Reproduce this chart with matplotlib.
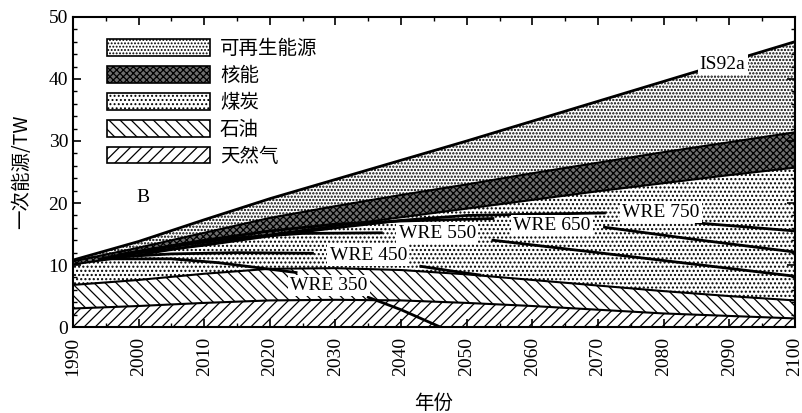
import numpy as np
import matplotlib
matplotlib.use("Agg")
import matplotlib.pyplot as plt
from matplotlib.patches import Patch
from matplotlib.ticker import MultipleLocator

plt.rcParams['font.family'] = ['Liberation Serif', 'Noto Sans CJK SC']
plt.rcParams['hatch.linewidth'] = 0.9

# layer tops (TW)
years = [1990, 2000, 2010, 2020, 2030, 2040, 2050, 2060, 2070, 2080, 2090, 2100]
gas_top = [3.0, 3.4, 3.9, 4.3, 4.4, 4.3, 3.9, 3.4, 2.8, 2.2, 1.8, 1.4]
oil_top = [6.8, 7.6, 8.6, 9.4, 9.5, 9.2, 8.5, 7.6, 6.7, 5.8, 5.0, 4.3]
coal_top = [10.1, 11.6, 13.3, 14.9, 16.3, 17.7, 19.1, 20.5, 21.9, 23.2, 24.5, 25.7]
nuclear_top = [10.6, 12.8, 15.2, 17.6, 19.5, 21.3, 23.0, 24.8, 26.5, 28.2, 29.8, 31.4]
total = [10.8, 13.8, 17.3, 20.7, 23.8, 26.9, 30.0, 33.2, 36.4, 39.6, 42.8, 46.0]

names = ['可再生能源', '核能', '煤炭', '石油', '天然气']

# WRE scenario curves (nan = gap under label)
wre350_x = [1994, 2005, 2012, 2018, 2024, np.nan, 2035, 2040, 2046]
wre350_y = [11.0, 11.0, 10.4, 9.6, 8.8, np.nan, 4.8, 2.8, 0.0]
wre450_x = [1995, 2005, 2015, 2026.5, np.nan, 2043, 2048, 2052]
wre450_y = [11.2, 11.8, 12.0, 11.9, np.nan, 9.8, 9.0, 8.4]
wre550_x = [1996, 2005, 2015, 2025, 2037, np.nan, 2054, 2070, 2085, 2100]
wre550_y = [11.4, 13.0, 14.4, 15.1, 15.2, np.nan, 14.0, 12.0, 10.1, 8.2]
wre650_x = [1997, 2010, 2020, 2030, 2040, 2054, np.nan, 2071, 2085, 2100]
wre650_y = [11.7, 14.0, 15.5, 16.6, 17.1, 17.5, np.nan, 16.1, 14.1, 12.1]
wre750_x = [1998, 2010, 2020, 2030, 2040, 2050, 2071, np.nan, 2085, 2100]
wre750_y = [11.7, 13.2, 14.7, 16.0, 17.2, 18.0, 18.4, np.nan, 16.8, 15.5]

fig = plt.figure(figsize=(8.02, 4.13), dpi=100)
ax = fig.add_axes([0.091, 0.208, 0.9, 0.751])

nuc_fc = '#6e6e6e'
zero = np.zeros(len(years))
layers = [
    (zero, gas_top, '///', 'white', 0.9),
    (gas_top, oil_top, '\\\\\\', 'white', 0.9),
    (oil_top, coal_top, '....', 'white', 1.0),
    (coal_top, nuclear_top, 'xxxxx', nuc_fc, 0.9),
    (nuclear_top, total, '.....', 'white', 1.1),
]
for lo, hi, h, fc, hlw in layers:
    with plt.rc_context({'hatch.linewidth': hlw}):
        ax.fill_between(years, lo, hi, facecolor=fc, edgecolor='black',
                        hatch=h, linewidth=0)
for b in [gas_top, oil_top, coal_top, nuclear_top]:
    ax.plot(years, b, color='black', lw=1.5)
ax.plot(years, total, color='black', lw=2)

for xs, ys in [(wre350_x, wre350_y), (wre450_x, wre450_y), (wre550_x, wre550_y),
               (wre650_x, wre650_y), (wre750_x, wre750_y)]:
    ax.plot(xs, ys, color='black', lw=2)

box = dict(facecolor='white', edgecolor='none', pad=1.5)
ax.text(2029, 6.7, 'WRE 350', fontsize=14, ha='center', va='center', bbox=box)
ax.text(2035, 11.6, 'WRE 450', fontsize=14, ha='center', va='center', bbox=box)
ax.text(2045.5, 15.1, 'WRE 550', fontsize=14, ha='center', va='center', bbox=box)
ax.text(2063, 16.4, 'WRE 650', fontsize=14, ha='center', va='center', bbox=box)
ax.text(2079.6, 18.5, 'WRE 750', fontsize=14, ha='center', va='center', bbox=box)
ax.text(2089, 42.4, 'IS92a', fontsize=14, ha='center', va='center', bbox=box)
ax.text(2000.7, 20.9, 'B', fontsize=14, ha='center', va='center')

leg_specs = [('.....', 'white', 1.1), ('xxxxx', nuc_fc, 0.9), ('....', 'white', 1.0),
             ('\\\\\\', 'white', 0.9), ('///', 'white', 0.9)]
handles = []
for h, fc, hlw in leg_specs:
    with plt.rc_context({'hatch.linewidth': hlw}):
        handles.append(Patch(facecolor=fc, edgecolor='black', hatch=h, lw=1.2))
ax.legend(handles, names, loc='upper left', bbox_to_anchor=(0.034, 0.962),
          frameon=False, handlelength=5.3, handleheight=0.95,
          labelspacing=0.3, handletextpad=0.5, borderpad=0,
          prop={'family': ['Noto Sans CJK SC'], 'size': 14})

ax.set_xlim(1990, 2100)
ax.set_ylim(0, 50)
ax.set_xticks(range(1990, 2101, 10))
ax.xaxis.set_minor_locator(MultipleLocator(5))
ax.yaxis.set_major_locator(MultipleLocator(10))
ax.yaxis.set_minor_locator(MultipleLocator(2))
ax.tick_params(which='both', direction='in', top=True, right=True, labelsize=14)
ax.tick_params(which='major', length=6, width=1.2)
ax.tick_params(which='minor', length=3, width=1)
ax.tick_params(axis='x', which='major', pad=7)
plt.setp(ax.get_xticklabels(), rotation=90)
for s in ax.spines.values():
    s.set_linewidth(1.5)

ax.set_xlabel('年份', fontsize=14, family=['Noto Sans CJK SC'], labelpad=12)
ax.set_ylabel('一次能源/TW', fontsize=14, family=['Noto Sans CJK SC', 'Liberation Serif'],
              labelpad=12)

fig.savefig('out.png', dpi=100)
